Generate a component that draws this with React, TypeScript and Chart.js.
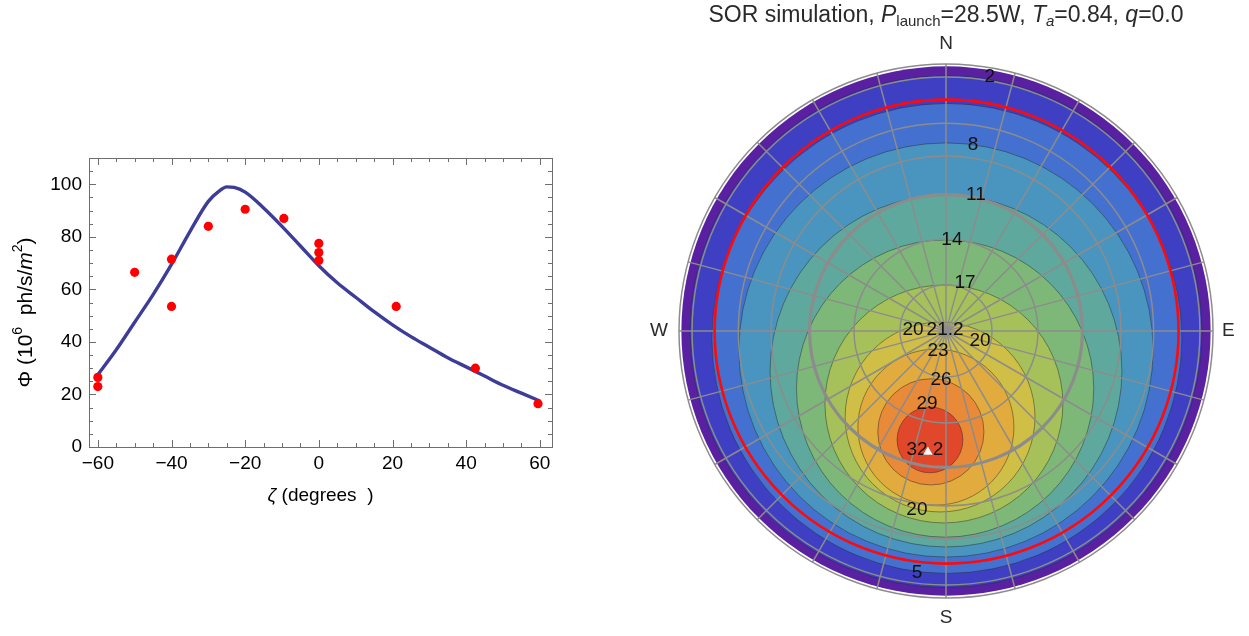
import React, { useEffect, useRef } from "react";
import { Chart, registerables } from "chart.js";
Chart.register(...registerables);

const FONT = '"Liberation Sans", Arial, Helvetica, sans-serif';

// ---------------- left panel data ----------------
const fitZeta = [-60, -55, -50, -45, -40, -35, -30, -27, -25, -23, -20, -15, -10, -5, 0, 5, 10, 15, 20, 25, 30, 35, 40, 45, 50, 55, 60];
const fitPhi = [27.5, 37, 47.5, 58, 69.5, 82, 93.5, 97.5, 99, 98.8, 97, 91, 84, 76.5, 69, 62.5, 57, 51.5, 46.5, 42, 38, 34, 30.5, 27, 23.5, 20.5, 17.5];
const obsZeta = [-60, -60, -50, -40, -40, -30, -20, -9.5, 0, 0, 0, 21, 42.5, 59.5];
const obsPhi = [26.5, 23, 66.5, 71.5, 53.5, 84, 90.5, 87, 77.5, 74, 71, 53.5, 30, 16.5];
const zetaTicks = [-60, -40, -20, 0, 20, 40, 60];
const phiTicks = [0, 20, 40, 60, 80, 100];
const zetaMinorStep = 5;
const phiMinorStep = 5;

// ---------------- right panel data ----------------
// contour levels (each drawn as the disk enclosing values above the level)
const contourLevels = [2, 5, 8, 11, 14, 17, 20, 23, 26, 29];
const contourCx = [0, 0.3, 0, 0, -0.3, -0.7, -2.0, -3.4, -5.1, -5.4];
const contourCy = [-0.2, -2.5, -6.4, -13.5, -19.4, -24.6, -29.0, -32.4, -34.0, -36.7];
const contourR = [86.3, 79.2, 69.8, 59.3, 50.1, 40.1, 32.0, 26.3, 17.9, 11.1];
// band colours: below the first level, then above each level
const bandColors = ["#5a20a2", "#3f3fc4", "#4471cf", "#4a95bf", "#5fa89d", "#7db878", "#a7c15a", "#cfbf46", "#e2ab3d", "#e88a37", "#e0472b"];
const horizonR = 89.2;
const ringRadii = [15.5, 31, 46, 59, 70, 85.6, 90];
const ringWidths = [1.5, 1.5, 3.2, 1.5, 1.5, 1.5, 1.5];
const azimuths = [0, 15, 30, 45, 60, 75, 90, 105, 120, 135, 150, 165];
const redCx = 0.2;
const redCy = -0.2;
const redR = 78.2;
const labelTexts = ["2", "8", "11", "14", "17", "20", "21.2", "20", "23", "26", "29", "32.2", "20", "5"];
const labelX = [14.8, 9.1, 10.1, 2.0, 6.4, -11.1, -0.3, 11.5, -2.7, -1.7, -6.4, -7.1, -9.8, -9.8];
const labelY = [85.6, 62.7, 45.8, 30.7, 16.2, 0.3, 0.3, -3.4, -6.7, -16.5, -24.6, -40.1, -60.3, -81.6];
const sunX = -6.1;
const sunY = -40.8;

type Seg = { t: string; font: string; dy?: number };

function drawRich(ctx: CanvasRenderingContext2D, segs: Seg[], cx: number, y: number) {
  let total = 0;
  const widths = segs.map((s) => {
    ctx.font = s.font;
    const w = ctx.measureText(s.t).width;
    total += w;
    return w;
  });
  let x = cx - total / 2;
  segs.forEach((s, i) => {
    ctx.font = s.font;
    ctx.fillText(s.t, x, y + (s.dy || 0));
    x += widths[i];
  });
}

const fmtTick = (v: number) => (v < 0 ? "\u2212" + Math.abs(v) : String(v));

const leftDecor = {
  id: "leftDecor",
  afterDatasetsDraw(chart: any) {
    const { ctx, chartArea: a, scales } = chart;
    const x = scales.x;
    const y = scales.y;
    ctx.save();
    ctx.strokeStyle = "#6e6e6e";
    ctx.lineWidth = 1;
    ctx.strokeRect(Math.round(a.left) + 0.5, Math.round(a.top) + 0.5, Math.round(a.right - a.left), Math.round(a.bottom - a.top));
    ctx.beginPath();
    for (let v = zetaTicks[0]; v <= zetaTicks[zetaTicks.length - 1] + 1e-6; v += zetaMinorStep) {
      const px = Math.round(x.getPixelForValue(v)) + 0.5;
      const len = zetaTicks.includes(v) ? 7 : 4;
      ctx.moveTo(px, a.bottom);
      ctx.lineTo(px, a.bottom - len);
      ctx.moveTo(px, a.top);
      ctx.lineTo(px, a.top + len);
    }
    for (let v = 0; v <= 110 + 1e-6; v += phiMinorStep) {
      const py = Math.round(y.getPixelForValue(v)) + 0.5;
      const len = phiTicks.includes(v) ? 7 : 4;
      ctx.moveTo(a.left, py);
      ctx.lineTo(a.left + len, py);
      ctx.moveTo(a.right, py);
      ctx.lineTo(a.right - len, py);
    }
    ctx.stroke();

    ctx.fillStyle = "#000";
    ctx.textBaseline = "middle";
    ctx.textAlign = "left";
    // x title
    drawRich(
      ctx,
      [
        { t: "\u03b6", font: `italic 19px ${FONT}` },
        { t: " (degrees  )", font: `19px ${FONT}` },
      ],
      (a.left + a.right) / 2,
      496
    );
    // y title (rotated)
    ctx.translate(26, (a.top + a.bottom) / 2 + 10);
    ctx.rotate(-Math.PI / 2);
    drawRich(
      ctx,
      [
        { t: "\u03a6 (10", font: `21px ${FONT}` },
        { t: "6", font: `14px ${FONT}`, dy: -8 },
        { t: "  ph/s/", font: `21px ${FONT}` },
        { t: "m", font: `italic 21px ${FONT}` },
        { t: "2", font: `14px ${FONT}`, dy: -8 },
        { t: ")", font: `21px ${FONT}` },
      ],
      0,
      0
    );
    ctx.restore();
  },
};

function pxRadius(c: any, r: number) {
  const s = c.chart.scales.x;
  return Math.abs(s.getPixelForValue(r) - s.getPixelForValue(0));
}

export default function App() {
  const leftRef = useRef<HTMLCanvasElement>(null);
  const rightRef = useRef<HTMLCanvasElement>(null);

  useEffect(() => {
    const left = new Chart(leftRef.current as HTMLCanvasElement, {
      type: "scatter",
      data: {
        datasets: [
          {
            label: "measured",
            data: obsZeta.map((x, i) => ({ x, y: obsPhi[i] })),
            pointRadius: 4.6,
            pointBackgroundColor: "#ff0000",
            pointBorderWidth: 0,
            order: 0,
          },
          {
            label: "model",
            data: fitZeta.map((x, i) => ({ x, y: fitPhi[i] })),
            showLine: true,
            borderColor: "#3d3d99",
            borderWidth: 3.4,
            pointRadius: 0,
            cubicInterpolationMode: "monotone",
            order: 1,
          },
        ],
      },
      options: {
        responsive: false,
        animation: false,
        events: [],
        layout: { padding: { left: 0, right: 68, top: 158, bottom: 149 } },
        plugins: { legend: { display: false }, tooltip: { enabled: false } },
        scales: {
          x: {
            type: "linear",
            min: -62.4,
            max: 63.3,
            grid: { display: false, drawTicks: false },
            border: { display: false },
            afterBuildTicks: (s: any) => {
              s.ticks = zetaTicks.map((value) => ({ value }));
            },
            afterFit: (s: any) => {
              s.height = 40;
            },
            ticks: {
              autoSkip: false,
              maxRotation: 0,
              padding: 5,
              color: "#000",
              font: { family: FONT, size: 19 },
              callback: (v: any) => fmtTick(Number(v)),
            },
          },
          y: {
            type: "linear",
            min: 0,
            max: 110,
            grid: { display: false, drawTicks: false },
            border: { display: false },
            afterBuildTicks: (s: any) => {
              s.ticks = phiTicks.map((value) => ({ value }));
            },
            afterFit: (s: any) => {
              s.width = 89;
            },
            ticks: {
              autoSkip: false,
              padding: 7,
              color: "#000",
              font: { family: FONT, size: 19 },
              callback: (v: any) => fmtTick(Number(v)),
            },
          },
        },
      } as any,
      plugins: [leftDecor],
    });

    // ---------- right panel ----------
    const datasets: any[] = [];
    // filled contour bands
    datasets.push({
      label: "bands",
      data: [{ x: 0, y: 0, rad: horizonR }].concat(
        contourLevels.map((_, i) => ({ x: contourCx[i], y: contourCy[i], rad: contourR[i] }))
      ),
      pointRadius: (c: any) => (c.raw ? pxRadius(c, c.raw.rad) : 0),
      pointHoverRadius: (c: any) => (c.raw ? pxRadius(c, c.raw.rad) : 0),
      pointBackgroundColor: bandColors,
      pointBorderColor: ["rgba(0,0,0,0)"].concat(contourLevels.map(() => "rgba(35,35,35,0.45)")),
      pointBorderWidth: [0].concat(contourLevels.map(() => 1)),
      clip: false,
      order: 10,
    });
    // altitude rings
    datasets.push({
      label: "rings",
      data: ringRadii.map((r) => ({ x: 0, y: 0, rad: r })),
      pointRadius: (c: any) => (c.raw ? pxRadius(c, c.raw.rad) : 0),
      pointHoverRadius: (c: any) => (c.raw ? pxRadius(c, c.raw.rad) : 0),
      pointBackgroundColor: "rgba(0,0,0,0)",
      pointBorderColor: "#8c8c8c",
      pointBorderWidth: ringWidths,
      clip: false,
      order: 8,
    });
    // azimuth lines
    azimuths.forEach((az) => {
      const a = (az * Math.PI) / 180;
      datasets.push({
        label: "az" + az,
        data: [
          { x: 90 * Math.sin(a), y: 90 * Math.cos(a) },
          { x: -90 * Math.sin(a), y: -90 * Math.cos(a) },
        ],
        showLine: true,
        borderColor: "#8c8c8c",
        borderWidth: 1.5,
        pointRadius: 0,
        clip: false,
        order: 7,
      });
    });
    // red contour
    datasets.push({
      label: "red",
      data: [{ x: redCx, y: redCy, rad: redR }],
      pointRadius: (c: any) => (c.raw ? pxRadius(c, c.raw.rad) : 0),
      pointHoverRadius: (c: any) => (c.raw ? pxRadius(c, c.raw.rad) : 0),
      pointBackgroundColor: "rgba(0,0,0,0)",
      pointBorderColor: "#ff0a0a",
      pointBorderWidth: 2.6,
      clip: false,
      order: 5,
    });
    // sun marker
    const markerIndex = datasets.length;
    datasets.push({
      label: "sun",
      data: [{ x: sunX, y: sunY }],
      pointStyle: "triangle",
      pointRadius: 5.5,
      pointBackgroundColor: "#ffffff",
      pointBorderColor: "#ffffff",
      pointBorderWidth: 0,
      clip: false,
      order: 1,
    });

    const skyText = {
      id: "skyText",
      beforeDatasetDraw(chart: any, args: any) {
        if (args.index !== markerIndex) return;
        const { ctx, scales } = chart;
        ctx.save();
        ctx.fillStyle = "#111";
        ctx.font = `19px ${FONT}`;
        ctx.textAlign = "center";
        ctx.textBaseline = "middle";
        labelTexts.forEach((t, i) => {
          ctx.fillText(t, scales.x.getPixelForValue(labelX[i]), scales.y.getPixelForValue(labelY[i]));
        });
        ctx.restore();
      },
      afterDraw(chart: any) {
        const { ctx, scales } = chart;
        const x = scales.x;
        const y = scales.y;
        ctx.save();
        ctx.fillStyle = "#2a2a2a";
        ctx.textBaseline = "middle";
        ctx.font = `19px ${FONT}`;
        ctx.textAlign = "center";
        ctx.fillText("N", x.getPixelForValue(0), y.getPixelForValue(90) - 20);
        ctx.fillText("S", x.getPixelForValue(0), y.getPixelForValue(-90) + 20);
        ctx.textAlign = "right";
        ctx.fillText("W", x.getPixelForValue(-90) - 11, y.getPixelForValue(0));
        ctx.textAlign = "left";
        ctx.fillText("E", x.getPixelForValue(90) + 9, y.getPixelForValue(0));
        ctx.textAlign = "left";
        ctx.textBaseline = "alphabetic";
        const big = `23px ${FONT}`;
        const bigI = `italic 23px ${FONT}`;
        const sub = `15px ${FONT}`;
        const subI = `italic 15px ${FONT}`;
        drawRich(
          ctx,
          [
            { t: "SOR simulation, ", font: big },
            { t: "P", font: bigI },
            { t: "launch", font: sub, dy: 4 },
            { t: "=28.5W, ", font: big },
            { t: "T", font: bigI },
            { t: "a", font: subI, dy: 4 },
            { t: "=0.84, ", font: big },
            { t: "q", font: bigI },
            { t: "=0.0", font: big },
          ],
          x.getPixelForValue(0),
          22
        );
        ctx.restore();
      },
    };

    const right = new Chart(rightRef.current as HTMLCanvasElement, {
      type: "scatter",
      data: { datasets },
      options: {
        responsive: false,
        animation: false,
        events: [],
        layout: { padding: { left: 39, right: 36, top: 64, bottom: 38 } },
        plugins: { legend: { display: false }, tooltip: { enabled: false } },
        scales: {
          x: { type: "linear", min: -90, max: 90, display: false },
          y: { type: "linear", min: -90, max: 90, display: false },
        },
      } as any,
      plugins: [skyText],
    });

    return () => {
      left.destroy();
      right.destroy();
    };
  }, []);

  return (
    <div style={{ position: "fixed", left: 0, top: 0, width: 1249, height: 636, background: "#fff" }}>
      <canvas
        ref={leftRef}
        width={620}
        height={636}
        style={{ position: "absolute", left: 0, top: 0, width: 620, height: 636 }}
      />
      <canvas
        ref={rightRef}
        width={609}
        height={636}
        style={{ position: "absolute", left: 640, top: 0, width: 609, height: 636 }}
      />
    </div>
  );
}
